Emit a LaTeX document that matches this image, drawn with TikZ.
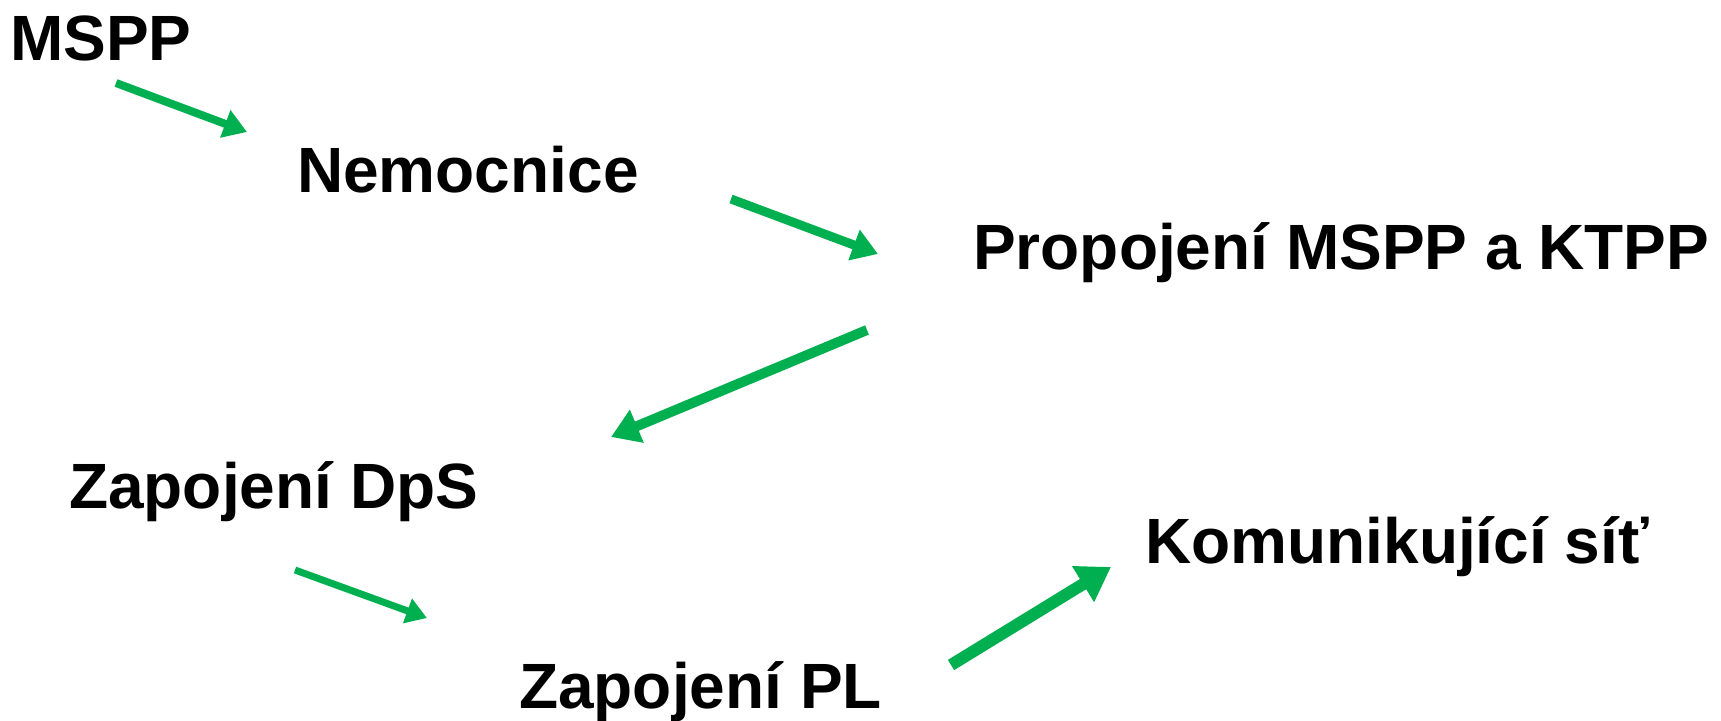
\documentclass[tikz,border=0pt]{standalone}
\usepackage{fontspec}
\setmainfont{Liberation Sans}
\usetikzlibrary{arrows.meta}
\definecolor{stepgreen}{HTML}{00B050}
\begin{document}
\begin{tikzpicture}[x=1pt,y=-1pt,
  label/.style={anchor=base west,inner sep=0pt,font=\fontsize{64}{72}\selectfont\bfseries},
  flow/.style={draw=stepgreen,line width=#1,
    -{Triangle[length=2.4*#1+4pt,width=3*#1+4pt]}},
  flow/.default=9pt]
\useasboundingbox[fill=white] (0,0) rectangle (1721,720);

% stages
\node[label] (mspp) at (10,60) {MSPP};
\node[label] (nem) at (297,192) {Nemocnice};
\node[label] (prop) at (973,269) {Propojení MSPP a KTPP};
\node[label] (dps) at (69,508) {Zapojení DpS};
\node[label] (kom) at (1145,563) {Komunikující síť};
\node[label] (pl) at (519,708) {Zapojení PL};

% arrow end points
\coordinate (a1s) at (116,83);  \coordinate (a1e) at (247,132);
\coordinate (a2s) at (731,199); \coordinate (a2e) at (878,254);
\coordinate (a3s) at (867,330); \coordinate (a3e) at (611,437);
\coordinate (a4s) at (951,665); \coordinate (a4e) at (1111,567);
\coordinate (a5s) at (295,570); \coordinate (a5e) at (427,618);

% transitions
\draw[flow=8pt] (a1s) -- (a1e);
\draw[flow=9pt] (a2s) -- (a2e);
\draw[flow=10pt] (a3s) -- (a3e);
\draw[flow=12pt] (a4s) -- (a4e);
\draw[flow=7pt] (a5s) -- (a5e);
\end{tikzpicture}
\end{document}
